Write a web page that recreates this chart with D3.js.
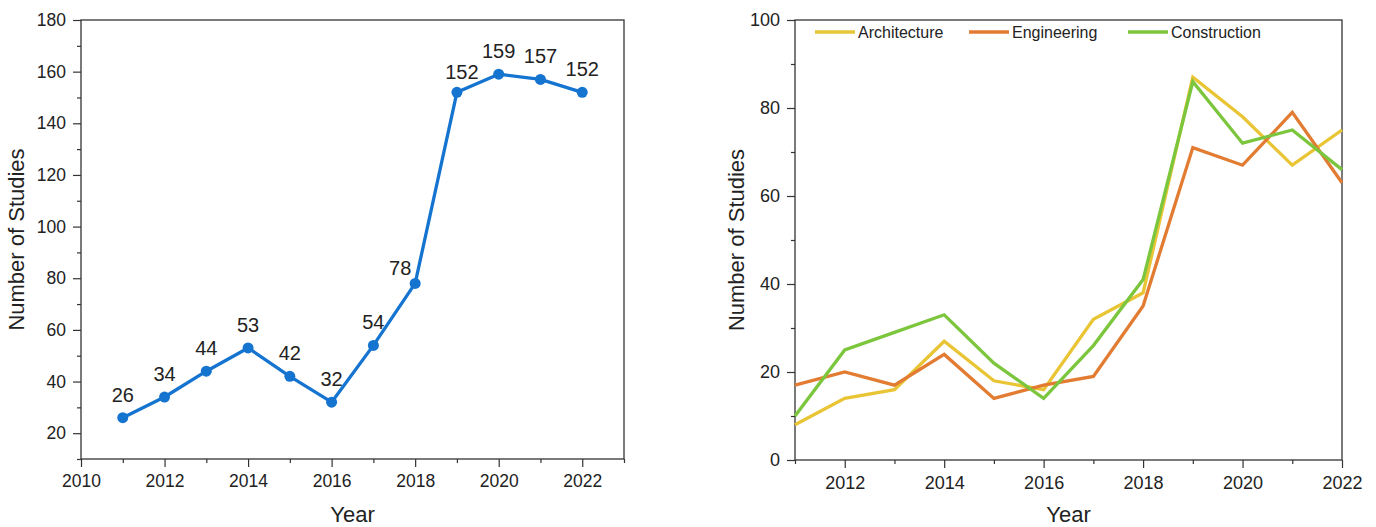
<!DOCTYPE html>
<html>
<head>
<meta charset="utf-8">
<script src="https://cdn.jsdelivr.net/npm/d3@7"></script>
<style>
	body { margin: 0; background: #fff; }
	svg { display: block; font-family: "Liberation Sans", Arial, sans-serif; }
	.tick text { fill: #222; }
	.tick line { stroke: #333; stroke-width: 1.2; }
</style>
</head>
<body>
<svg id="chart" width="1376" height="527"></svg>
<script>
	//Left chart: total studies per year
	var years = [2011,2012,2013,2014,2015,2016,2017,2018,2019,2020,2021,2022];
	var totalStudies = [26,34,44,53,42,32,54,78,152,159,157,152];

	//Right chart: studies per discipline
	var seriesNames = ["Architecture","Engineering","Construction"];
	var architecture = [8,14,16,27,18,16,32,38,87,78,67,75];
	var engineering = [17,20,17,24,14,17,19,35,71,67,79,63];
	var construction = [10,25,29,33,22,14,26,41,86,72,75,66];

	//Tick values
	var leftXMajor = [2010,2012,2014,2016,2018,2020,2022];
	var leftXMinor = [2011,2013,2015,2017,2019,2021,2023];
	var leftYMajor = [20,40,60,80,100,120,140,160,180];
	var leftYMinor = [10,30,50,70,90,110,130,150,170];
	var rightXMajor = [2012,2014,2016,2018,2020,2022];
	var rightXMinor = [2011,2013,2015,2017,2019,2021];
	var rightYMajor = [0,20,40,60,80,100];
	var rightYMinor = [10,30,50,70,90];

	var svg = d3.select('#chart');
	var BLUE = '#1574d0';
	var COLORS = {Architecture:'#e9c535', Engineering:'#e27c32', Construction:'#7cc63d'};

	/**
	 * Draw the frame, ticks and titles for one panel
	 */
	function drawFrame(x, y, xMajor, xMinor, yMajor, yMinor, fontSize, titleX) {
		var x0 = x.range()[0], x1 = x.range()[1];
		var y0 = y.range()[0], y1 = y.range()[1];
		var g = svg.append('g');

		//minor ticks first, no labels
		g.append('g').attr('transform','translate(0,'+y0+')')
			.call(d3.axisBottom(x).tickValues(xMinor).tickSize(4).tickFormat(''));
		g.append('g').attr('transform','translate('+x0+',0)')
			.call(d3.axisLeft(y).tickValues(yMinor).tickSize(4).tickFormat(''));

		g.append('g').attr('transform','translate(0,'+y0+')')
			.call(d3.axisBottom(x).tickValues(xMajor).tickSize(8).tickPadding(8).tickFormat(d3.format('d')));
		g.append('g').attr('transform','translate('+x0+',0)')
			.call(d3.axisLeft(y).tickValues(yMajor).tickSize(8).tickPadding(7));

		g.selectAll('.domain').remove();
		g.selectAll('.tick text').style('font-size',fontSize+'px')
			.style('font-family','"Liberation Sans", Arial, sans-serif');

		//box around the plot
		g.append('rect')
			.attr('x',x0).attr('y',y1)
			.attr('width',x1-x0).attr('height',y0-y1)
			.attr('fill','none').attr('stroke','#333').attr('stroke-width',1.3);

		//axis titles
		g.append('text')
			.attr('x',(x0+x1)/2).attr('y',522)
			.attr('text-anchor','middle')
			.style('font-size','22px').attr('fill','#222')
			.text('Year');
		g.append('text')
			.attr('transform','translate('+titleX+','+((y0+y1)/2)+') rotate(-90)')
			.attr('text-anchor','middle')
			.style('font-size','22px').attr('fill','#222')
			.text('Number of Studies');
	}

	/***************************************
	 * LEFT CHART
	 ***************************************/
	var xl = d3.scaleLinear().domain([2010,2023]).range([81,624]);
	var yl = d3.scaleLinear().domain([10,180]).range([459,20]);
	drawFrame(xl, yl, leftXMajor, leftXMinor, leftYMajor, leftYMinor, 17.5, 24);

	var totals = years.map(function(yr,i){ return {year:yr, value:totalStudies[i]}; });

	svg.append('path')
		.datum(totals)
		.attr('fill','none')
		.attr('stroke',BLUE)
		.attr('stroke-width',3.3)
		.attr('stroke-linejoin','round')
		.attr('d',d3.line().x(function(d){return xl(d.year);}).y(function(d){return yl(d.value);}));

	svg.append('g').selectAll('circle')
		.data(totals)
		.enter().append('circle')
			.attr('cx',function(d){return xl(d.year);})
			.attr('cy',function(d){return yl(d.value);})
			.attr('r',5.5)
			.attr('fill',BLUE);

	//a couple of labels are nudged away from the line
	var labelNudge = {2018:[-15,8], 2019:[5,3]};
	svg.append('g').selectAll('text')
		.data(totals)
		.enter().append('text')
			.attr('x',function(d){ return xl(d.year)+(labelNudge[d.year] ? labelNudge[d.year][0] : 0); })
			.attr('y',function(d){ return yl(d.value)-16+(labelNudge[d.year] ? labelNudge[d.year][1] : 0); })
			.attr('text-anchor','middle')
			.style('font-size','20px')
			.attr('fill','#222')
			.text(function(d){return d.value;});

	/***************************************
	 * RIGHT CHART
	 ***************************************/
	var xr = d3.scaleLinear().domain([2011,2022]).range([795,1342]);
	var yr = d3.scaleLinear().domain([0,100]).range([460,20]);
	drawFrame(xr, yr, rightXMajor, rightXMinor, rightYMajor, rightYMinor, 18, 744);

	var seriesValues = [architecture, engineering, construction];
	var series = seriesNames.map(function(name,i) {
		return {name:name, values:years.map(function(yr,j){ return {year:yr, value:seriesValues[i][j]}; })};
	});

	var lineR = d3.line()
		.x(function(d){return xr(d.year);})
		.y(function(d){return yr(d.value);});

	svg.append('g').selectAll('path')
		.data(series)
		.enter().append('path')
			.attr('fill','none')
			.attr('stroke',function(d){return COLORS[d.name];})
			.attr('stroke-width',3.3)
			.attr('stroke-linejoin','miter')
			.attr('d',function(d){return lineR(d.values);});

	//legend along the top of the panel
	var legendX = [815,969,1128];
	var legend = svg.append('g').selectAll('g.legend')
		.data(series)
		.enter().append('g')
			.attr('class','legend')
			.attr('transform',function(d,i){return 'translate('+legendX[i]+',32)';});
	legend.append('line')
		.attr('x1',0).attr('x2',40)
		.attr('stroke',function(d){return COLORS[d.name];})
		.attr('stroke-width',3.3);
	legend.append('text')
		.attr('x',43).attr('y',5.5)
		.style('font-size','16px')
		.attr('fill','#222')
		.text(function(d){return d.name;});
</script>
</body>
</html>
